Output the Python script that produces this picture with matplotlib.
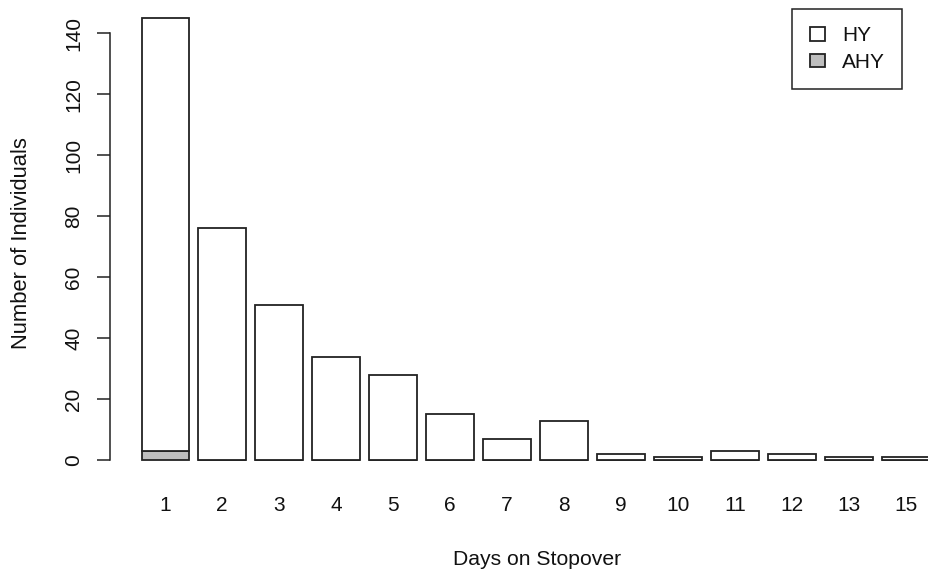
import matplotlib
matplotlib.use("Agg")
import matplotlib.pyplot as plt
import numpy as np

days = ["1", "2", "3", "4", "5", "6", "7", "8", "9", "10", "11", "12", "13", "15"]
ahy = [3, 0, 0, 0, 0, 0, 0, 0, 0, 0, 0, 0, 0, 0]
hy = [142, 76, 51, 34, 28, 15, 7, 13, 2, 1, 3, 2, 1, 1]
yticks = [0, 20, 40, 60, 80, 100, 120, 140]

plt.rcParams['font.family'] = ['Liberation Sans', 'DejaVu Sans']

W, H = 929, 571
fig = plt.figure(figsize=(W / 100, H / 100), dpi=100)
ax = fig.add_axes([110 / W, (H - 482.5) / H, 851 / W, 482.5 / H])

x = 0.7 + 1.2 * np.arange(len(days))
edge = '#222222'
lw = 1.3
b_ahy = ax.bar(x, ahy, width=1.0, color='#BEBEBE', edgecolor=edge, linewidth=lw, label='AHY')
b_hy = ax.bar(x, hy, width=1.0, bottom=ahy, color='white', edgecolor=edge, linewidth=lw, label='HY')

ax.set_xlim(-0.464, 17.464)
ax.set_ylim(-7.3, 150.9)

for s in ['top', 'right', 'bottom']:
    ax.spines[s].set_visible(False)
ax.spines['left'].set_bounds(0, 140)
ax.spines['left'].set_color(edge)
ax.spines['left'].set_linewidth(1.1)

ax.set_yticks(yticks)
ax.set_yticklabels([str(v) for v in yticks], rotation=90, va='center')
ax.tick_params(axis='y', length=9.4, width=1.1, color=edge, pad=10, labelsize=15, labelcolor='#111111')
ax.set_xticks(x)
ax.set_xticklabels(days)
ax.tick_params(axis='x', length=0, pad=10, labelsize=15, labelcolor='#111111')

fig.text(537 / W, 1 - 565 / H, "Days on Stopover", ha='center', va='baseline', fontsize=15.2, color='#111111')
fig.text(27 / W, 1 - 243 / H, "Number of Individuals", ha='center', va='baseline', rotation=90,
         fontsize=15.8, color='#111111', rotation_mode='anchor')

leg = ax.legend(handles=[b_hy, b_ahy], labels=['HY', 'AHY'], loc='upper right',
                bbox_to_anchor=(902 / W, 1 - 9 / H), bbox_transform=fig.transFigure,
                borderaxespad=0, fancybox=False, framealpha=1, edgecolor=edge,
                fontsize=15, handlelength=0.75, handleheight=0.6, handletextpad=0.8,
                borderpad=0.83, labelspacing=0.37)
leg.get_frame().set_linewidth(1.1)
for t in leg.get_texts():
    t.set_color('#111111')

fig.savefig("out.png", dpi=100)
